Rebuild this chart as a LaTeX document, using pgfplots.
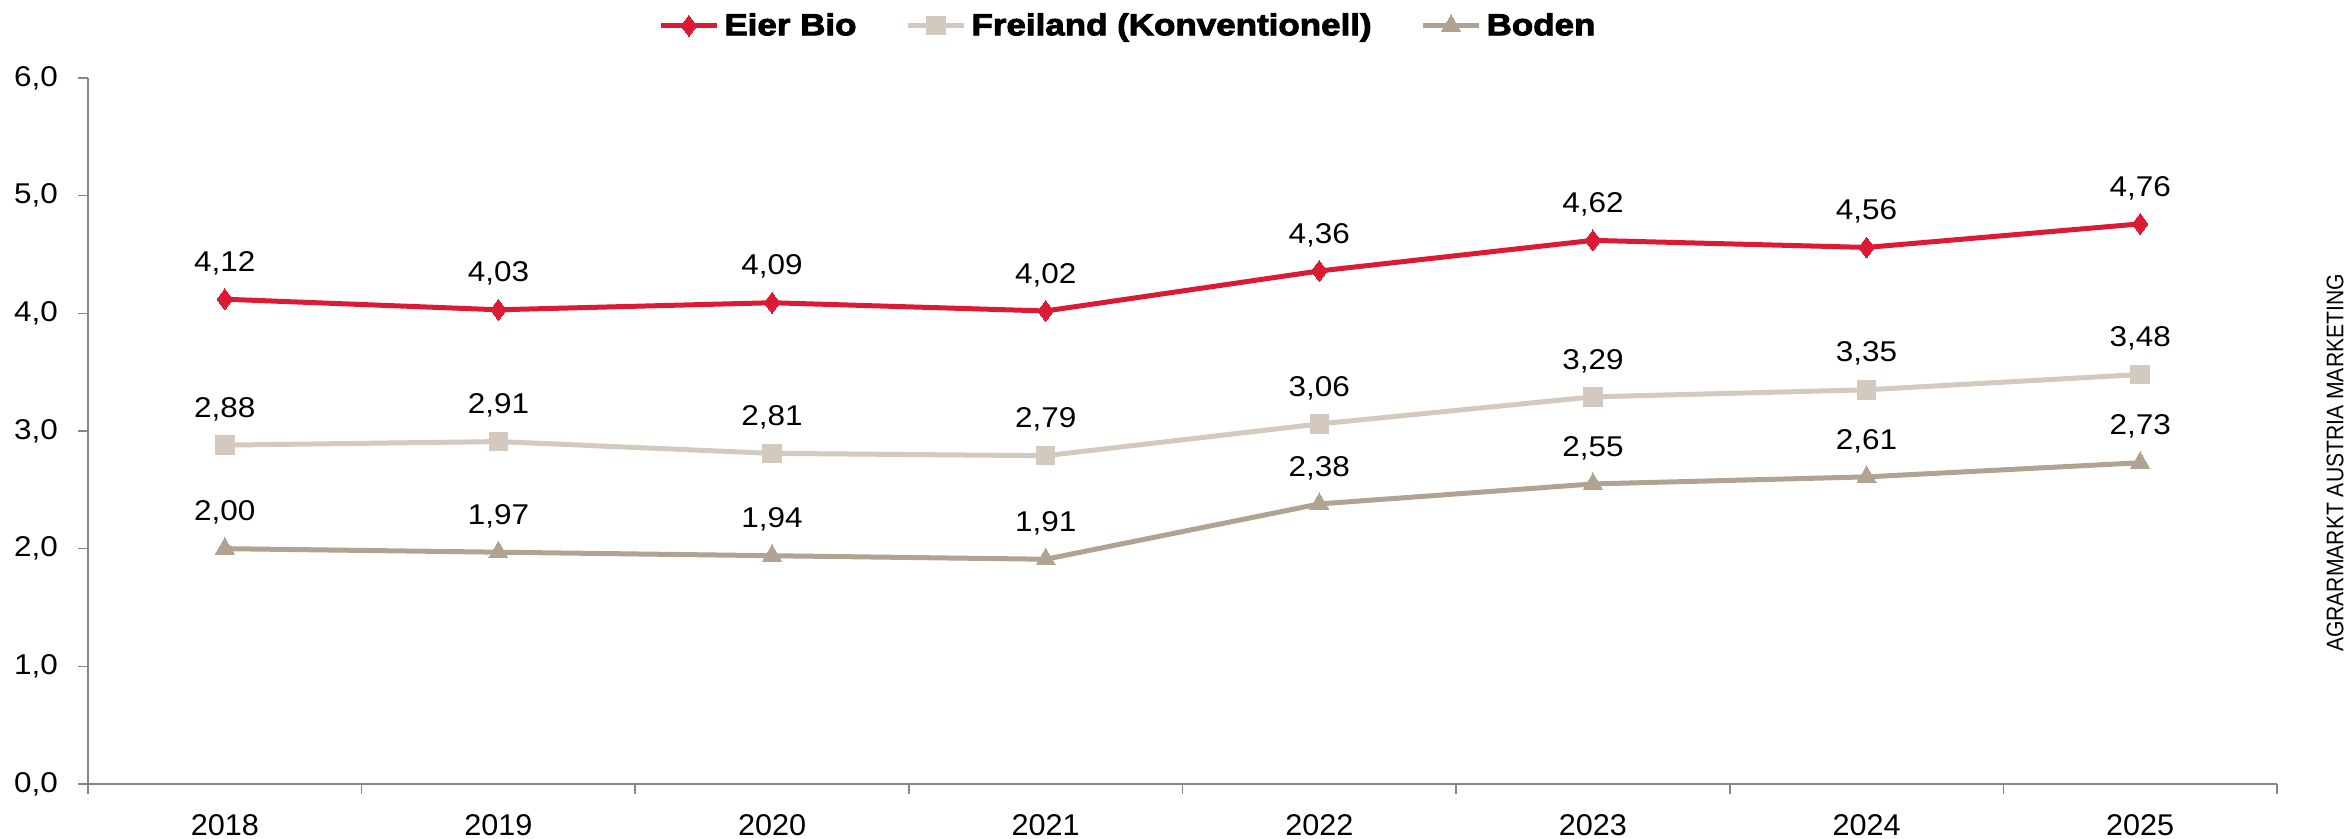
\documentclass[border=0pt]{standalone}
\usepackage{pgfplots}
\pgfplotsset{compat=1.18}
\usepackage{fontspec}
\setmainfont{Liberation Sans}
\newfontfamily\legfont{Liberation Sans}[FakeStretch=1.15, BoldFeatures={FakeBold=3}]
\newfontfamily\srcfont{Liberation Sans}[FakeStretch=0.88]
\newfontfamily\numfont{Liberation Sans}[FakeStretch=1.1]
\newfontfamily\yearfont{Liberation Sans}[FakeStretch=1.02]
\definecolor{bio}{HTML}{DC1A33}
\definecolor{frei}{HTML}{D3C9BF}
\definecolor{boden}{HTML}{B1A292}
\definecolor{axgray}{HTML}{868686}
\begin{document}
\begin{tikzpicture}
\useasboundingbox (-44pt,-27.5pt) rectangle (1130pt,392pt);
\begin{axis}[
  at={(0,0)}, anchor=south west,
  scale only axis, width=1094.5pt, height=353pt,
  xmin=-0.5, xmax=7.5, ymin=0, ymax=6,
  axis x line*=bottom, axis y line*=left,
  axis line style={axgray, line width=0.8pt},
  tick align=outside,
  major tick length=5pt,
  tick style={axgray, line width=0.8pt},
  xtick={-0.5,0.5,...,7.5}, xticklabels={},
  extra x ticks={0,1,2,3,4,5,6,7},
  extra x tick labels={2018,2019,2020,2021,2022,2023,2024,2025},
  extra x tick style={major tick length=0pt, tick style={draw=none}},
  ytick={0,1,2,3,4,5,6},
  /pgf/number format/assume math mode=true,
  yticklabel style={/pgf/number format/fixed, /pgf/number format/fixed zerofill, /pgf/number format/precision=1, /pgf/number format/use comma, xshift=-6.5pt, font=\numfont\fontsize{14.3}{17}\selectfont},
  ticklabel style={text=black},
  xticklabel style={yshift=-11.5pt, font=\yearfont\fontsize{15}{18}\selectfont},
  clip=false,
  nodes near coords={\pgfmathprintnumber[fixed,fixed zerofill,precision=2,use comma,assume math mode=true]{\pgfplotspointmeta}},
  every node near coord/.append style={font=\numfont\fontsize{14.3}{17}\selectfont, text=black, anchor=center, yshift=18pt},
  legend columns=-1,
  legend style={draw=none, fill=none, at={(0.2604,1.074)}, anchor=west, inner sep=0pt,
    font=\legfont\bfseries\fontsize{15.2}{18}\selectfont,
    nodes={inner sep=0pt},
    /tikz/every even column/.append style={column sep=24.5pt}},
  legend image code/.code={\draw[mark repeat=2,mark phase=2] plot coordinates {(0pt,0pt) (14pt,0pt) (28pt,0pt)}; \path (30.5pt,0pt);},
]
\addplot[bio, line width=2.5pt, mark=diamond*, mark size=5.2pt, mark options={solid, line width=0pt}]
  coordinates {(0,4.12) (1,4.03) (2,4.09) (3,4.02) (4,4.36) (5,4.62) (6,4.56) (7,4.76)};
\addlegendentry{Eier Bio}
\addplot[frei, line width=2.5pt, mark=square*, mark size=4.6pt, mark options={solid, line width=0pt}]
  coordinates {(0,2.88) (1,2.91) (2,2.81) (3,2.79) (4,3.06) (5,3.29) (6,3.35) (7,3.48)};
\addlegendentry{Freiland (Konventionell)}
\addplot[boden, line width=2.5pt, mark=triangle*, mark size=5.5pt, mark options={solid, line width=0pt}]
  coordinates {(0,2.00) (1,1.97) (2,1.94) (3,1.91) (4,2.38) (5,2.55) (6,2.61) (7,2.73)};
\addlegendentry{Boden}
\node[rotate=90, font=\srcfont\fontsize{12}{14}\selectfont] at (rel axis cs:1.0265,0.4547) {AGRARMARKT AUSTRIA MARKETING};
\end{axis}
\end{tikzpicture}
\end{document}
